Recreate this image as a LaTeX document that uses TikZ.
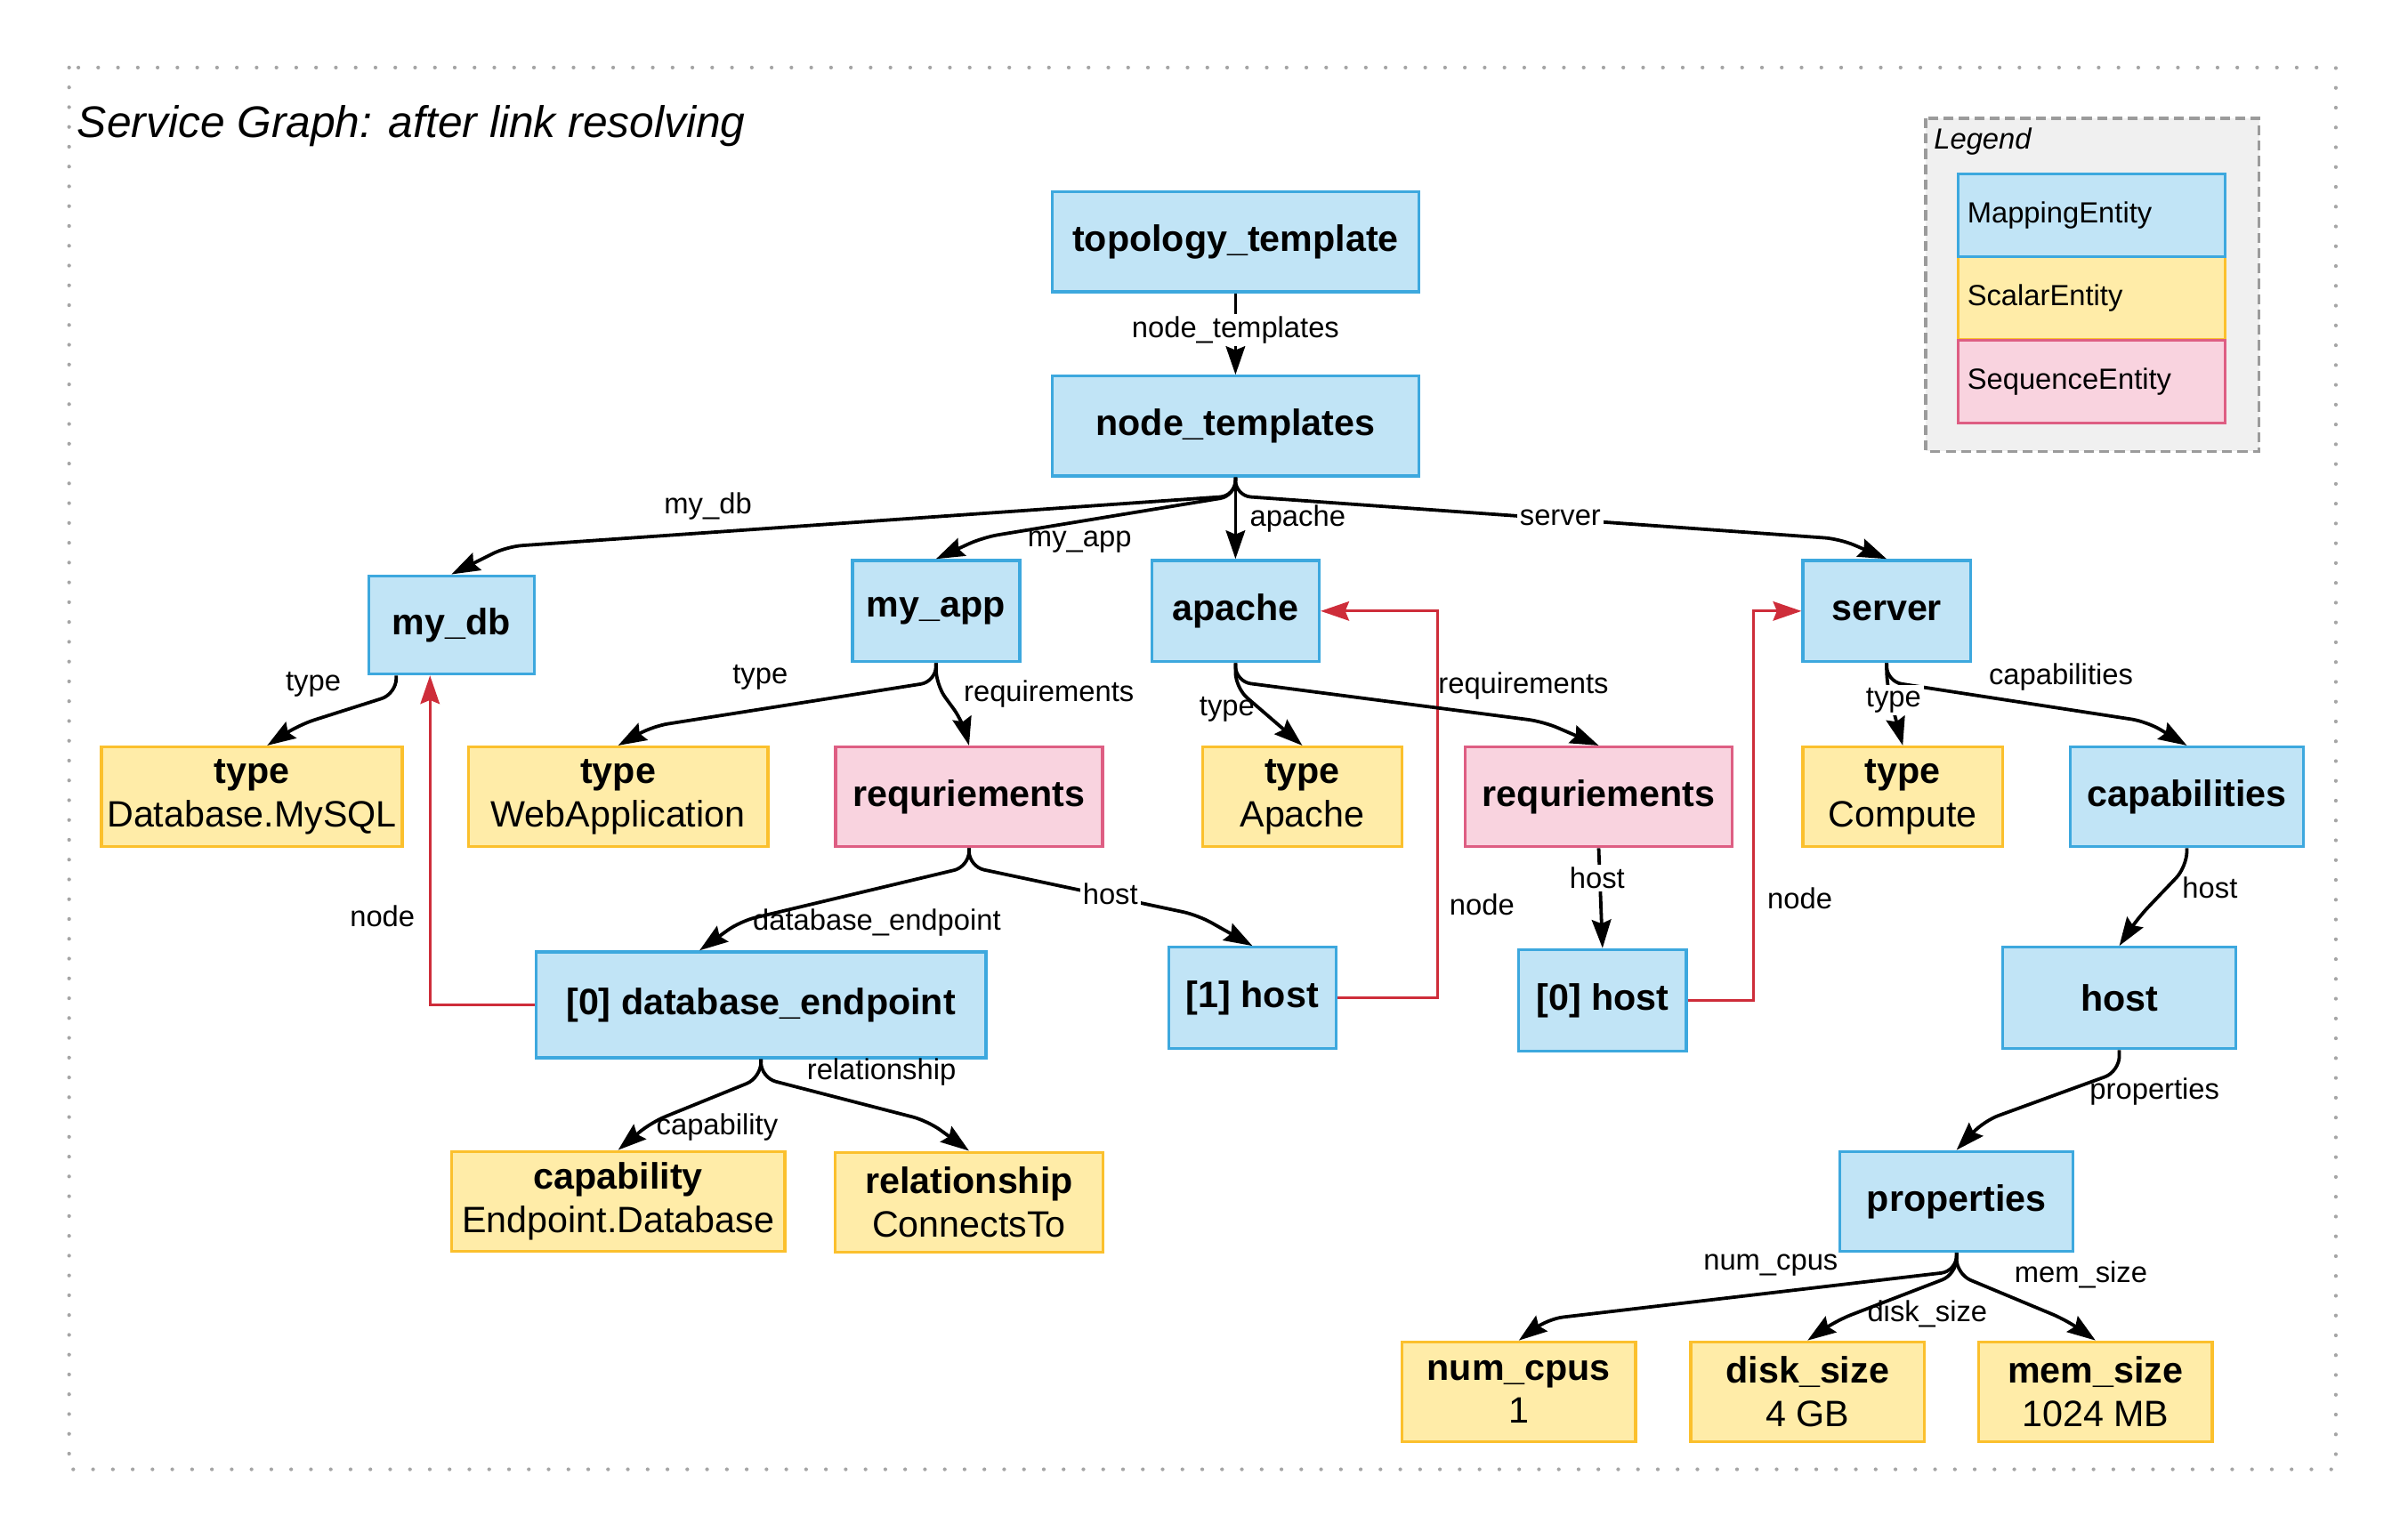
\documentclass[tikz,border=0pt]{standalone}
\usepackage{fontspec}
\setmainfont{Liberation Sans}
\usetikzlibrary{arrows.meta,positioning}
\definecolor{mapfill}{RGB}{193,228,246}
\definecolor{mapline}{RGB}{61,168,222}
\definecolor{scalfill}{RGB}{255,236,168}
\definecolor{scalline}{RGB}{251,192,45}
\definecolor{seqfill}{RGB}{249,211,223}
\definecolor{seqline}{RGB}{222,94,131}
\definecolor{linkred}{RGB}{206,45,58}
\definecolor{legfill}{RGB}{240,240,240}
\definecolor{framegray}{RGB}{155,155,155}

\begin{document}
\begin{tikzpicture}[x=0.02cm, y=-0.02cm,
  >={Stealth[length=0.37cm, width=0.25cm, inset=0.05cm]},
  entity/.style={draw, line width=1.1pt, inner sep=2pt, align=center, minimum height=1.3cm,
    font=\fontsize{13.6}{16}\selectfont},
  mapent/.style={entity, draw=mapline, fill=mapfill, font=\fontsize{13.6}{16}\selectfont\bfseries},
  scalent/.style={entity, draw=scalline, fill=scalfill},
  seqent/.style={entity, draw=seqline, fill=seqfill, font=\fontsize{13.6}{16}\selectfont\bfseries},
  small/.style={minimum width=2.18cm, minimum height=1.32cm},
  legent/.style={line width=1.1pt, minimum width=3.48cm, minimum height=1.08cm, text width=3.24cm,
    inner xsep=0.12cm, align=left, font=\fontsize{10.8}{13}\selectfont},
  edge/.style={->, line width=1.25pt, rounded corners=0.2cm},
  link/.style={->, draw=linkred, line width=1pt},
  lbl/.style={inner sep=1pt, font=\fontsize{10.8}{13}\selectfont},
  lblbg/.style={lbl, fill=white}]

\useasboundingbox (0,0) rectangle (1568,1003);
\draw[framegray!90!white, line width=1.4pt, line cap=round, dash pattern=on 0pt off 0.258cm] (45,44) rectangle (1521,957);
\node[anchor=base west, inner sep=0pt, font=\fontsize{16.4}{19}\selectfont\itshape] (title) at (50,89.5) {Service Graph: after link resolving};

% legend
\draw[framegray, fill=legfill, line width=1.2pt, dash pattern=on 0.13cm off 0.07cm] (1254,77) rectangle (1471,294);
\node[anchor=west, inner sep=0pt, font=\fontsize{10.8}{13}\selectfont\itshape] (legtitle) at (1259,92) {Legend};
\node[legent, draw=scalline, fill=scalfill] (legscal) at (1362,194.25) {ScalarEntity};
\node[legent, draw=mapline, fill=mapfill] (legmap) at (1362,140.25) {MappingEntity};
\node[legent, draw=seqline, fill=seqfill] (legseq) at (1362,248.5) {SequenceEntity};

% nodes
\node[mapent, minimum width=4.78cm] (topo) at (804.5,157.5) {topology\_template};
\node[mapent, minimum width=4.78cm] (ntpl) at (804.5,277.5) {node\_templates};
\node[mapent, minimum width=2.16cm, minimum height=1.28cm] (mydb) at (294,407) {my\_db};
\node[mapent, small] (myapp) at (609.5,398) {my\_app};
\node[mapent, small] (apache) at (804.5,398) {apache};
\node[mapent, small] (server) at (1228.5,398) {server};
\node[scalent, minimum width=3.92cm] (type1) at (164,519) {\textbf{type}\\Database.MySQL};
\node[scalent, minimum width=3.9cm] (type2) at (402.5,519) {\textbf{type}\\WebApplication};
\node[seqent, minimum width=3.48cm] (req1) at (631,519) {requriements};
\node[scalent, minimum width=2.6cm] (type3) at (848,519) {\textbf{type}\\Apache};
\node[seqent, minimum width=3.48cm] (req2) at (1041,519) {requriements};
\node[scalent, minimum width=2.6cm] (type4) at (1239,519) {\textbf{type}\\Compute};
\node[mapent, minimum width=3.04cm] (caps) at (1424,519) {capabilities};
\node[mapent, minimum width=5.86cm, minimum height=1.38cm] (dbend) at (495.5,654.5) {[0] database\_endpoint};
\node[mapent, small] (host1) at (815.5,650) {[1] host};
\node[mapent, small] (host0) at (1043.5,651.5) {[0] host};
\node[mapent, minimum width=3.04cm, minimum height=1.32cm] (hosts) at (1380,650) {host};
\node[scalent, minimum width=4.34cm] (capab) at (402.5,782.5) {\textbf{capability}\\Endpoint.Database};
\node[scalent, minimum width=3.49cm] (relsh) at (631,783) {\textbf{relationship}\\ConnectsTo};
\node[mapent, minimum width=3.04cm] (props) at (1274,782.5) {properties};
\node[scalent, minimum width=3.04cm] (numcpu) at (989,906.5) {\textbf{num\_cpus}\\1};
\node[scalent, minimum width=3.04cm] (disk) at (1177,906.5) {\textbf{disk\_size}\\4 GB};
\node[scalent, minimum width=3.04cm] (mem) at (1364.5,906.5) {\textbf{mem\_size}\\1024 MB};

% resolved links
\draw[link] (dbend.west) -| ([xshift=-0.28cm]mydb.south);
\draw[link] (host1.east) -- ++(65,0) |- (apache.east);
\draw[link] (host0.east) -- ++(43,0) |- (server.west);

% edges
\draw[edge] (topo.south) -- (ntpl.north);
\draw[edge] (ntpl.south) -- ++(0,12) -- (330,356) -- (mydb.north);
\draw[edge] (ntpl.south) -- ++(0,12) -- (640,350) -- (myapp.north);
\draw[edge] (ntpl.south) -- (apache.north);
\draw[edge] (ntpl.south) -- ++(0,12) -- (1198,351) -- (server.north);
\draw[edge] ([xshift=-0.72cm]mydb.south) -- ++(0,12) -- (195,472) -- ([xshift=0.2cm]type1.north);
\draw[edge] (myapp.south) -- ++(0,12) -- (425,473) -- (type2.north);
\draw[edge] (myapp.south) -- ++(0,14) -- (627,470) -- (req1.north);
\draw[edge] (apache.south) -- ++(0,16) -- (type3.north);
\draw[edge] (apache.south) -- ++(0,12) -- (1005,470) -- (req2.north);
\draw[edge] (req1.south) -- ++(0,12) -- (482,600) -- ([xshift=-0.8cm]dbend.north);
\draw[edge] (req1.south) -- ++(0,12) -- (780,596) -- (host1.north);
\draw[edge] (req2.south) -- (host0.north);
\draw[edge] (server.south) -- ++(0,14) -- (type4.north);
\draw[edge] (server.south) -- ++(0,12) -- (1398,470) -- (caps.north);
\draw[edge] (caps.south) -- ++(0,12) -- (1392,598) -- (hosts.north);
\draw[edge] (hosts.south) -- ++(0,14) -- (1292,730) -- (props.north);
\draw[edge] (props.south) -- ++(0,12) -- (1008,859) -- (numcpu.north);
\draw[edge] (props.south) -- ++(0,14) -- (1196,860) -- (disk.north);
\draw[edge] (props.south) -- ++(0,14) -- (1346,860) -- (mem.north);
\draw[edge] (dbend.south) -- ++(0,12) -- (424,731) -- (capab.north);
\draw[edge] (dbend.south) -- ++(0,12) -- (604,730) -- (relsh.north);

% labels
\node[lblbg] (lntpl) at (804.5,215) {node\_templates};
\node[lbl] (lmydb) at (461,330) {my\_db};
\node[lbl] (lmyapp) at (703,353) {my\_app};
\node[lbl] (lapache) at (845,338) {apache};
\node[lblbg] (lserver) at (1016,337) {server};
\node[lbl] (ltype1) at (204,446) {type};
\node[lbl] (lnode1) at (249,597) {node};
\node[lbl] (ltype2) at (495,441) {type};
\node[lbl] (lreq1) at (683,452) {requirements};
\node[lbl] (ltype3) at (799,462) {type};
\node[lbl] (lreq2) at (992,447) {requirements};
\node[lbl] (lnode2) at (965,589) {node};
\node[lblbg] (lhost0) at (1040,572) {host};
\node[lbl] (lnode3) at (1172,585) {node};
\node[lblbg] (ltype4) at (1233,456) {type};
\node[lbl] (lcaps) at (1342,441) {capabilities};
\node[lbl] (lhosts) at (1439,578) {host};
\node[lbl] (ldbend) at (571,601) {database\_endpoint};
\node[lblbg] (lhost1) at (723,582) {host};
\node[lbl] (lrelsh) at (574,698) {relationship};
\node[lbl] (lcapab) at (467,734) {capability};
\node[lbl] (lprops) at (1403,711) {properties};
\node[lbl] (lnum) at (1153,824) {num\_cpus};
\node[lbl] (ldisk) at (1255,856) {disk\_size};
\node[lbl] (lmem) at (1355,830) {mem\_size};

\end{tikzpicture}
\end{document}
